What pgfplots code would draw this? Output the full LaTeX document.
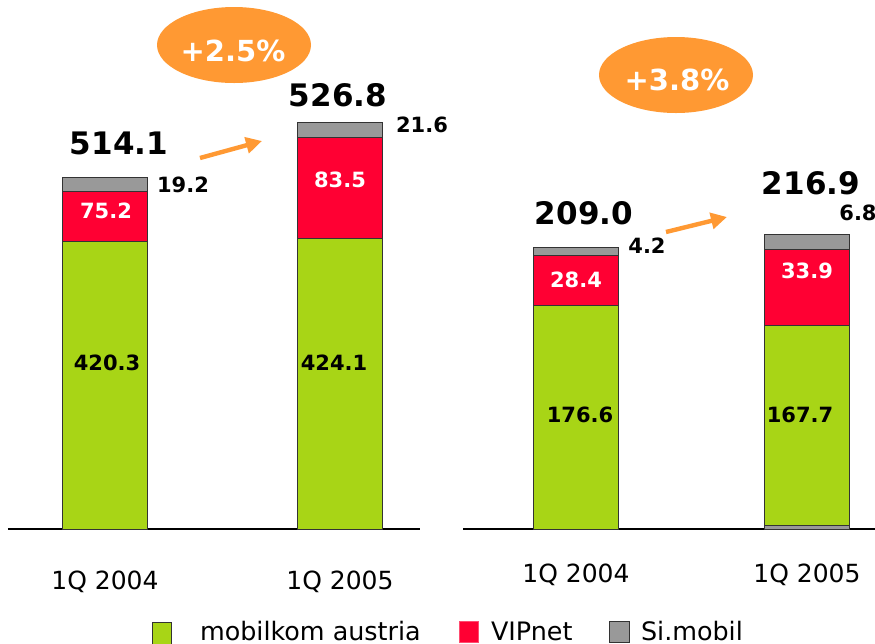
\documentclass[border=0pt]{standalone}
\usepackage{fontspec}
\setmainfont{DejaVu Sans}
\usepackage{pgfplots}
\pgfplotsset{compat=1.18}
\usetikzlibrary{arrows.meta}
\definecolor{mobgreen}{RGB}{168,213,22}
\definecolor{vipred}{RGB}{255,0,51}
\definecolor{simgrey}{RGB}{153,153,153}
\definecolor{growth}{RGB}{255,153,51}
% 1 px of the reference = 0.5pt; origin at top-left
\pgfplotsset{
  panel/.style={
    scale only axis, width=206pt, height=214.5pt,
    anchor=south west, ymin=0, clip=false,
    axis x line*=bottom, axis y line=none,
    x axis line style={-, black, line width=0.6pt},
    xtick style={draw=none},
    xticklabel style={anchor=center, font=\fontsize{12.5}{14}\selectfont},
    ybar stacked, bar width=42.5pt,
    every axis plot/.append style={draw=black!80, line width=0.5pt},
  },
}
\tikzset{
  inlab/.style={font=\fontsize{10.5}{12}\bfseries\selectfont},
  totlab/.style={font=\fontsize{15.5}{18}\bfseries\selectfont},
}
\begin{document}
\begin{tikzpicture}
\path[use as bounding box] (0,0) rectangle (437.5pt,-322pt);

% ---- left panel (scale 0.684 px per unit)
\begin{axis}[panel, at={(4pt,-264.5pt)}, xmin=8, xmax=420, ymax=627.2,
  xtick={105,340}, xticklabels={1Q 2004,1Q 2005},
  xticklabel style={yshift=-26.5pt}]
  \addplot[fill=mobgreen] coordinates {(105,420.3) (340,424.1)};
  \addplot[fill=vipred] coordinates {(105,73.1) (340,147.7)};
  \addplot[fill=simgrey] coordinates {(105,21.1) (340,22.8)};
\end{axis}

% ---- right panel (scale 1.267 px per unit)
\begin{axis}[panel, at={(231.5pt,-264.5pt)}, xmin=463, xmax=875, ymax=338.6,
  xtick={576,807}, xticklabels={1Q 2004,1Q 2005},
  xticklabel style={yshift=-23pt}]
  \addplot[fill=simgrey, forget plot] coordinates {(576,0) (807,2.4)};
  \addplot[fill=mobgreen] coordinates {(576,176.6) (807,157.9)};
  \addplot[fill=vipred] coordinates {(576,39.5) (807,60.0)};
  \addplot[fill=simgrey] coordinates {(576,6.0) (807,12.4)};
\end{axis}

\begin{scope}[x=0.5pt, y=-0.5pt]
% ---- value labels
\node[inlab] at (107,363) {420.3};
\node[inlab] at (334,363) {424.1};
\node[inlab, white] at (106,211) {75.2};
\node[inlab, white] at (340,180) {83.5};
\node[inlab] at (183,185) {19.2};
\node[inlab] at (422,125) {21.6};
\node[totlab] at (119,143) {514.1};
\node[totlab] at (338,95) {526.8};
\node[inlab] at (580,415) {176.6};
\node[inlab] at (800,415) {167.7};
\node[inlab, white] at (576,280) {28.4};
\node[inlab, white] at (807,271) {33.9};
\node[inlab] at (647,246) {4.2};
\node[inlab] at (858,213) {6.8};
\node[totlab] at (584,213) {209.0};
\node[totlab] at (811,183) {216.9};

% ---- growth bubbles and arrows
\fill[growth] (234,45) ellipse [x radius=38.5pt, y radius=19pt];
\node[white, font=\fontsize{14.5}{17}\bfseries\selectfont] at (233,51) {+2.5\%};
\fill[growth] (676,75) ellipse [x radius=38.5pt, y radius=19pt];
\node[white, font=\fontsize{14.5}{17}\bfseries\selectfont] at (677,80) {+3.8\%};
\draw[growth, line width=2.2pt, -{Triangle[length=8pt, width=8pt]}] (200,158) -- (262,141);
\draw[growth, line width=2.2pt, -{Triangle[length=8pt, width=8pt]}] (666,232) -- (727,217);

% ---- legend
\filldraw[fill=mobgreen, draw=black!80, line width=0.5pt] (152,622) rectangle (171,646);
\node[anchor=west, font=\fontsize{12.7}{15}\selectfont] at (193,631) {mobilkom austria};
\filldraw[fill=vipred, draw=vipred!70, line width=0.5pt] (459,621) rectangle (478,642);
\node[anchor=west, font=\fontsize{12.7}{15}\selectfont] at (484,631) {VIPnet};
\filldraw[fill=simgrey, draw=black!80, line width=0.5pt] (609,621) rectangle (629,642);
\node[anchor=west, font=\fontsize{12.7}{15}\selectfont] at (634,631) {Si.mobil};
\end{scope}
\end{tikzpicture}
\end{document}
